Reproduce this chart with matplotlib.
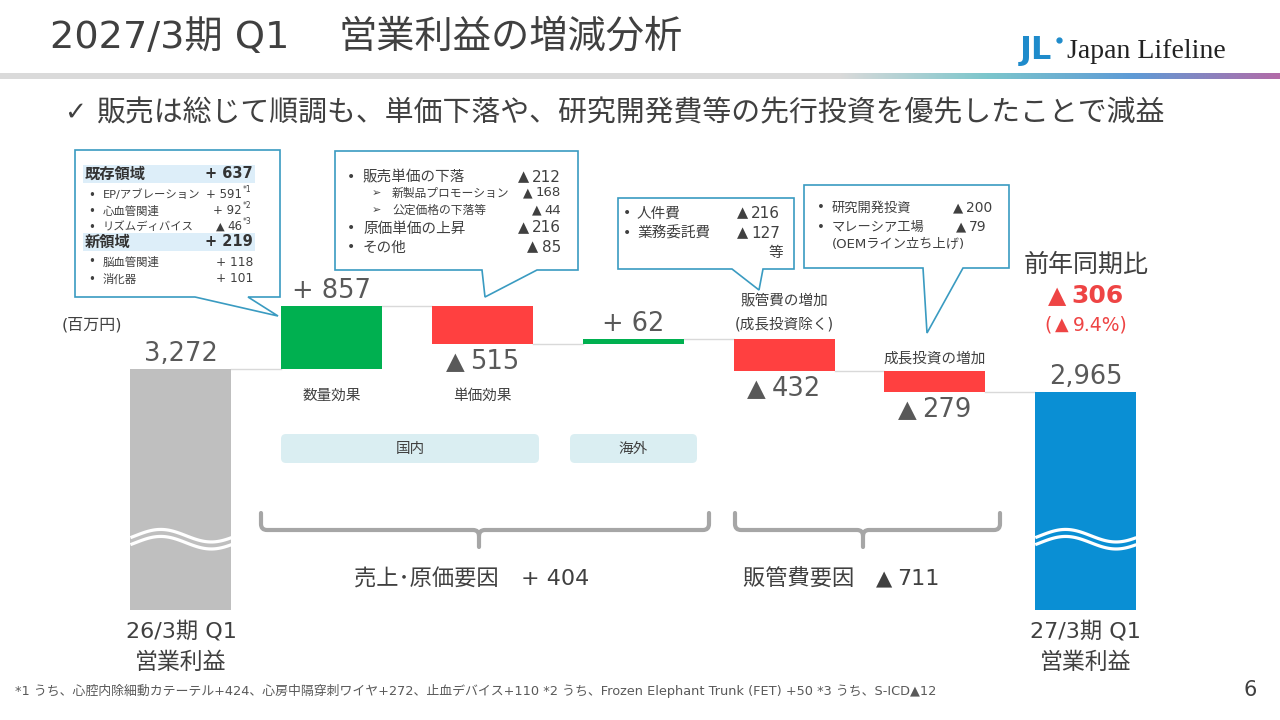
import numpy as np
import matplotlib.pyplot as plt
import matplotlib.transforms as mtransforms
from matplotlib.patches import Polygon, FancyBboxPatch, Rectangle, PathPatch
from matplotlib.path import Path
from matplotlib.colors import LinearSegmentedColormap

# DejaVu for latin/digits (close to the slide's Meiryo latin), Noto CJK for Japanese
plt.rcParams['font.family'] = ['DejaVu Sans', 'Noto Sans CJK JP']

# ---- data (百万円)
start_label = ["26/3期 Q1", "営業利益"]
end_label = ["27/3期 Q1", "営業利益"]
start_value = 3272
end_value = 2965
step_names = ["数量効果", "単価効果", "", "販管費の増加\n(成長投資除く)", "成長投資の増加"]
step_values = [857, -515, 62, -432, -279]

yoy_diff = -306
yoy_pct = -9.4

group_names = ["売上･原価要因", "販管費要因"]
group_values = [404, -711]
region_names = ["国内", "海外"]

volume_names = ["既存領域", "EP/アブレーション", "心血管関連", "リズムディバイス", "新領域", "脳血管関連", "消化器"]
volume_values = [637, 591, 92, -46, 219, 118, 101]
volume_notes = ["", "*1", "*2", "*3", "", "", ""]
volume_heads = [True, False, False, False, True, False, False]

price_names = ["販売単価の下落", "新製品プロモーション", "公定価格の下落等", "原価単価の上昇", "その他"]
price_values = [-212, -168, -44, -216, -85]
price_level = [0, 1, 1, 0, 0]

sga_names = ["人件費", "業務委託費"]
sga_values = [-216, -127]

growth_names = ["研究開発投資", "マレーシア工場"]
growth_values = [-200, -79]

footnote = ("*1 うち、心腔内除細動カテーテル+424、心房中隔穿刺ワイヤ+272、止血デバイス+110 "
            "*2 うち、Frozen Elephant Trunk (FET) +50 *3 うち、S-ICD▲12")

GREEN = '#00B050'
RED = '#FF4040'
GRAY = '#BFBFBF'
BLUE = '#0A8FD4'
TXT = '#404040'
NUM = '#595959'
LINE = '#3A9BC1'
YOY = '#EE4444'

fig = plt.figure(figsize=(12.8, 7.2), dpi=100)
fig.patch.set_facecolor('white')
renderer = fig.canvas.get_renderer()

# waterfall axes (x = step, y = 百万円)
ax = fig.add_axes([0, 0, 1, 1])
ax.set_xlim(-1.2, 7.288)
ax.set_ylim(-1490, 8277)
ax.axis('off')

# overlay in slide pixels for text / shapes
deco = fig.add_axes([0, 0, 1, 1], zorder=2)
deco.set_xlim(0, 1280)
deco.set_ylim(720, 0)
deco.axis('off')
deco.patch.set_alpha(0)
bt = mtransforms.blended_transform_factory(ax.transData, deco.transData)


def sign_parts(v, size, tri=0.95):
    if v > 0:
        return [(f"+ {v:,}", size, 0)]
    return [("▲", size * tri, size * 0.3), (f"{abs(v):,}", size, 0)]


def seq_text(x, y, parts, ha='left', **kw):
    arts, widths = [], []
    for s, fs, gap in parts:
        a = deco.text(0, y, s, fontsize=fs, va='center', ha='left', **kw)
        arts.append(a)
        widths.append(a.get_window_extent(renderer).width + gap)
    left = {'left': x, 'center': x - sum(widths) / 2, 'right': x - sum(widths)}[ha]
    for a, wd in zip(arts, widths):
        a.set_x(left)
        left += wd
    return arts


# ---- bars
n = len(step_values)
xs = np.arange(n + 2)
levels = np.cumsum([start_value] + step_values)
bottoms = [0] + [min(levels[i], levels[i + 1]) for i in range(n)] + [0]
heights = [start_value] + [abs(v) for v in step_values] + [end_value]
colors = [GRAY] + [GREEN if v > 0 else RED for v in step_values] + [BLUE]
w = 0.67
ax.bar(xs, heights, bottom=bottoms, width=w, color=colors, zorder=2)

for i in range(n + 1):
    ax.plot([xs[i] + w / 2, xs[i + 1] - w / 2], [levels[i], levels[i]],
            color='#D9D9D9', lw=1, zorder=1)

# break waves on the two total bars
t = np.linspace(0, 1, 60)
for i in (0, n + 1):
    for base in (1010, 915):
        ax.plot(xs[i] - w / 2 + t * w, base + 85 * np.sin(2 * np.pi * (t - 0.05)),
                color='white', lw=2.3, zorder=3, solid_capstyle='butt')

# value labels
all_vals = [start_value] + step_values + [end_value]
tops = [b + h for b, h in zip(bottoms, heights)]
for i, v in enumerate(all_vals):
    if i == 0 or i == n + 1:
        parts, anchor, dy = [(f"{v:,}", 18.5, 0)], tops[i], 15
    elif v > 0:
        parts, anchor, dy = sign_parts(v, 18.5), tops[i], 15
    else:
        parts, anchor, dy = sign_parts(v, 18.5), bottoms[i], -18
    px, py = ax.transData.transform((xs[i], anchor))
    seq_text(px, 720 - py - dy, parts, ha='center', color=NUM, zorder=4)

# step names
name_y = [395, 395, None, 300, 358]
for i, (nm, yy) in enumerate(zip(step_names, name_y)):
    if not nm:
        continue
    for k, line in enumerate(nm.split("\n")):
        deco.text(xs[i + 1], yy + 24 * k, line, transform=bt, ha='center', va='center',
                  fontsize=10.5, color=TXT)

for i, lab in ((0, start_label), (n + 1, end_label)):
    deco.text(xs[i], 631, lab[0], transform=bt, ha='center', va='center', fontsize=16, color=TXT)
    deco.text(xs[i], 662, lab[1], transform=bt, ha='center', va='center', fontsize=16.5, color=TXT)

# ---- header
deco.text(50, 38, "2027/3期 Q1", fontsize=27.5, color=TXT, va='center', ha='left')
deco.text(338, 38, "営業利益の増減分析", fontsize=27.5, color=TXT, va='center', ha='left')
deco.add_patch(Rectangle((0, 73), 1280, 6, color='#DADADA', lw=0))
grad = LinearSegmentedColormap.from_list('hdr', ['#DADADA', '#7CC6CC', '#5E9BD6', '#B36BA8'])
deco.imshow(np.linspace(0, 1, 256)[None, :], cmap=grad, aspect='auto',
            extent=(840, 1280, 79, 73), zorder=1)
deco.set_xlim(0, 1280)
deco.set_ylim(720, 0)

deco.text(1020, 51, "JL", fontsize=23, fontweight='bold', color='#1F8BCB',
          family='DejaVu Sans', va='center', ha='left')
deco.plot([1059], [40], 'o', ms=3.5, color='#1F8BCB')
deco.text(1067, 51, "Japan Lifeline", fontsize=20, color='#222222',
          family='Liberation Serif', va='center', ha='left')

deco.text(64, 113, "✓", fontsize=19, color=TXT, va='center', ha='left')
deco.text(96, 113, "販売は総じて順調も、単価下落や、研究開発費等の先行投資を優先したことで減益",
          fontsize=20.8, color=TXT, va='center', ha='left')

deco.text(62, 325, "(百万円)", fontsize=11.5, color=TXT, va='center', ha='left')


# ---- callouts
def callout(box, base, tip):
    x0, y0, x1, y1 = box
    pts = [(x0, y0), (x1, y0), (x1, y1), (base[1], y1), tip, (base[0], y1), (x0, y1)]
    deco.add_patch(Polygon(pts, closed=True, facecolor='white', edgecolor=LINE, lw=1.2, zorder=5))


callout((75, 150, 280, 297), (195, 248), (278, 316))
callout((335, 151, 578, 270), (482, 537), (485, 297))
callout((618, 198, 794, 269), (732, 763), (759, 290))
callout((804, 185, 1009, 268), (923, 963), (927, 333))

vol_y = [174, 195, 211, 227, 242, 262, 279]
for nm, v, note, head, yy in zip(volume_names, volume_values, volume_notes, volume_heads, vol_y):
    if head:
        deco.add_patch(Rectangle((83, yy - 9), 172, 18, color='#DDEEF9', lw=0, zorder=6))
        deco.text(85, yy, nm, fontsize=11, fontweight='bold', color='#333333', va='center', zorder=7)
        seq_text(253, yy, sign_parts(v, 10.5), ha='right', fontweight='bold', color='#333333', zorder=7)
    else:
        deco.text(88, yy, "•", fontsize=8.5, color=TXT, va='center', zorder=7)
        deco.text(103, yy, nm, fontsize=8.2, color=TXT, va='center', zorder=7)
        if note:
            seq_text(242, yy, sign_parts(v, 8.5), ha='right', color=TXT, zorder=7)
            deco.text(243, yy - 5, note, fontsize=5.5, color=TXT, va='center', ha='left', zorder=7)
        else:
            seq_text(253, yy, sign_parts(v, 8.8), ha='right', color=TXT, zorder=7)

price_y = [177, 193, 210, 228, 247]
for nm, v, lv, yy in zip(price_names, price_values, price_level, price_y):
    if lv == 0:
        deco.text(347, yy, "•", fontsize=10, color=TXT, va='center', zorder=7)
        deco.text(363, yy, nm, fontsize=10.5, color=TXT, va='center', zorder=7)
        seq_text(561, yy, sign_parts(v, 11), ha='right', color=TXT, zorder=7)
    else:
        deco.text(372, yy, "➢", fontsize=8, color=TXT, va='center', zorder=7)
        deco.text(392, yy, nm, fontsize=8.5, color=TXT, va='center', zorder=7)
        seq_text(561, yy, sign_parts(v, 9.5), ha='right', color=TXT, zorder=7)

for nm, v, yy in zip(sga_names, sga_values, [213, 233]):
    deco.text(623, yy, "•", fontsize=10, color=TXT, va='center', zorder=7)
    deco.text(637, yy, nm, fontsize=10.5, color=TXT, va='center', zorder=7)
    seq_text(780, yy, sign_parts(v, 11), ha='right', color=TXT, zorder=7)
deco.text(783, 252, "等", fontsize=10.5, color=TXT, va='center', ha='right', zorder=7)

for nm, v, yy, xr in zip(growth_names, growth_values, [208, 227], [992, 987]):
    deco.text(817, yy, "•", fontsize=9.5, color=TXT, va='center', zorder=7)
    deco.text(832, yy, nm, fontsize=9.5, color=TXT, va='center', zorder=7)
    seq_text(xr, yy, sign_parts(v, 10), ha='right', color=TXT, zorder=7)
deco.text(832, 244, "(OEMライン立ち上げ)", fontsize=9.5, color=TXT, va='center', zorder=7)

# ---- year on year
deco.text(1086, 265, "前年同期比", fontsize=18, color=TXT, ha='center', va='center')
seq_text(1086, 296, sign_parts(yoy_diff, 18), ha='center', fontweight='bold', color=YOY)
pct_parts = [("(", 13.5, 3)] + sign_parts(yoy_pct, 13.5)[:1] + [(f"{abs(yoy_pct):.1f}%)", 13.5, 0)]
seq_text(1086, 325, pct_parts, ha='center', color=YOY)

# ---- region bands
for nm, (x0, x1) in zip(region_names, [(281, 539), (570, 697)]):
    deco.add_patch(FancyBboxPatch((x0, 434), x1 - x0, 29, boxstyle="round,pad=0,rounding_size=5",
                                  facecolor='#DAEEF2', edgecolor='none'))
    deco.text((x0 + x1) / 2, 448, nm, fontsize=10.5, color=TXT, ha='center', va='center')


# ---- brackets
def bracket(xl, xm, xr, ytop=513, ybar=530, ytip=547, r=6):
    verts = [(xl, ytop), (xl, ybar - r), (xl, ybar), (xl + r, ybar),
             (xm - r, ybar), (xm, ybar), (xm, ybar + r), (xm, ytip),
             (xm, ybar + r), (xm, ybar), (xm + r, ybar),
             (xr - r, ybar), (xr, ybar), (xr, ybar - r), (xr, ytop)]
    codes = [Path.MOVETO, Path.LINETO, Path.CURVE3, Path.CURVE3,
             Path.LINETO, Path.CURVE3, Path.CURVE3, Path.LINETO,
             Path.MOVETO, Path.CURVE3, Path.CURVE3,
             Path.LINETO, Path.CURVE3, Path.CURVE3, Path.LINETO]
    deco.add_patch(PathPatch(Path(verts, codes), facecolor='none', edgecolor='#A6A6A6',
                             lw=3, capstyle='round', joinstyle='round'))


bracket(261, 479, 709)
bracket(735, 863, 1000)

for nm, v, xc in zip(group_names, group_values, [472, 841]):
    seq_text(xc, 579, [(nm + "　", 16, 0)] + sign_parts(v, 16), ha='center', color=TXT)

# ---- footer
deco.text(15, 691, footnote, fontsize=9.3, color=NUM, ha='left', va='center')
deco.text(1250, 690, "6", fontsize=15, color=TXT, ha='center', va='center')

fig.savefig('out.png', dpi=100, facecolor='white')
